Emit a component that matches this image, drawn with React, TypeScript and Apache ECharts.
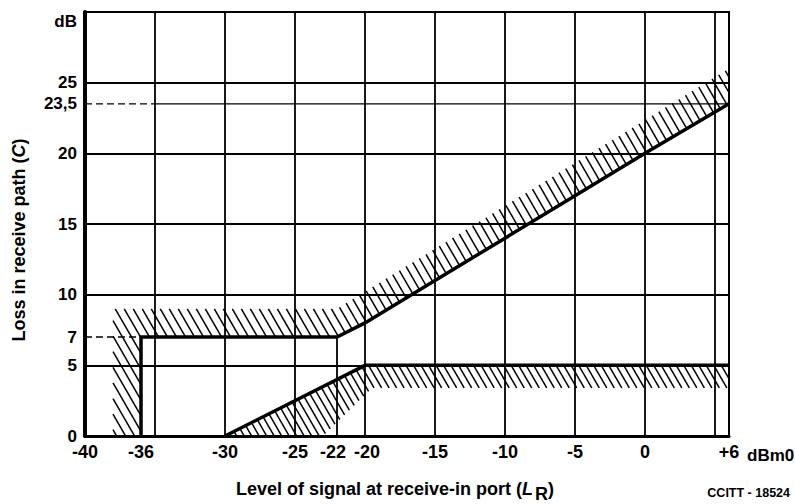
import React, { useEffect, useRef } from 'react';
import * as echarts from 'echarts';

// ---- data ----
const xTicks = [-40, -36, -30, -25, -22, -20, -15, -10, -5, 0, 6];
const yTicks = [0, 5, 7, 10, 15, 20, 23.5, 25];
const xGrid = [-35, -30, -25, -20, -15, -10, -5, 0, 5];
const yGrid = [5, 10, 15, 20, 25];

// upper limit of loss C (dB) vs level L_R (dBm0)
const upperLimit: number[][] = [
  [-36, 0], [-36, 7], [-22, 7], [-20, 8], [-15, 11], [-10, 14], [-5, 17], [0, 20], [6, 23.5],
];
// lower limit
const lowerLimit: number[][] = [[-30, 0], [-20, 5], [6, 5]];

// outer edges of the hatched zones
const upperHatchEdge: number[][] = [[-38, 0], [-38, 9], [-22, 9], [6, 26]];
const lowerHatchEdge: number[][] = [[-30, 0], [-23, 0], [-19.5, 3.4], [6, 3.4]];

// reference marks
const mark7: number[][] = [[-40, 7], [-36, 7]];
const mark22: number[][] = [[-22, 0], [-22, 7]];
const mark235Dashed: number[][] = [[-40, 23.5], [-35, 23.5]];
const mark235Solid: number[][] = [[-35, 23.5], [6, 23.5]];

const FONT = '"Liberation Sans", Arial, sans-serif';
const HATCH_GAP = [7.8, 6.5]; // perpendicular pixel spacing per band

function hatchSegments(poly: number[][], gap: number): number[][][] {
  // direction of strokes "\" at 60 degrees (screen coords)
  const a = (60 * Math.PI) / 180;
  const d = [Math.cos(a), Math.sin(a)];
  const n = [-d[1], d[0]];
  const dot = (p: number[], v: number[]) => p[0] * v[0] + p[1] * v[1];
  let cMin = Infinity, cMax = -Infinity;
  poly.forEach((p) => {
    const c = dot(p, n);
    cMin = Math.min(cMin, c);
    cMax = Math.max(cMax, c);
  });
  const segs: number[][][] = [];
  const start = Math.ceil(cMin / gap) * gap;
  for (let c = start; c <= cMax; c += gap) {
    const hits: number[][] = [];
    for (let i = 0; i < poly.length; i++) {
      const p1 = poly[i];
      const p2 = poly[(i + 1) % poly.length];
      const t1 = dot(p1, n) - c;
      const t2 = dot(p2, n) - c;
      if ((t1 < 0 && t2 >= 0) || (t1 >= 0 && t2 < 0)) {
        const f = t1 / (t1 - t2);
        hits.push([p1[0] + (p2[0] - p1[0]) * f, p1[1] + (p2[1] - p1[1]) * f]);
      }
    }
    hits.sort((u, v) => dot(u, d) - dot(v, d));
    for (let k = 0; k + 1 < hits.length; k += 2) segs.push([hits[k], hits[k + 1]]);
  }
  return segs;
}

const hatchBands = [
  upperHatchEdge.concat(upperLimit.slice().reverse()),
  lowerHatchEdge.concat(lowerLimit.slice().reverse()),
];

export default function App() {
  const ref = useRef<HTMLDivElement>(null);
  useEffect(() => {
    document.body.style.margin = '0';
    const chart = echarts.init(ref.current!, null, { renderer: 'svg' });
    const thinLine = (name: string, data: number[][], type: any, width: number) => ({
      name,
      type: 'line',
      data,
      symbol: 'none',
      silent: true,
      z: 2,
      lineStyle: { color: '#000', width, type },
    });
    const tickFont = { fontFamily: FONT, fontWeight: 'bold', fontSize: 18, color: '#000' };
    chart.setOption({
      animation: false,
      backgroundColor: '#fff',
      grid: {
        left: 85,
        right: 66,
        top: 12,
        bottom: 68,
        show: true,
        borderColor: '#000',
        borderWidth: 2,
        outerBoundsMode: 'none',
      },
      xAxis: {
        type: 'value',
        min: -40,
        max: 6,
        axisLine: { show: true, onZero: false, lineStyle: { color: '#000', width: 3 } },
        axisTick: { show: false },
        splitLine: { show: false },
        axisLabel: {
          customValues: xTicks,
          interval: 0,
          hideOverlap: false,
          margin: 7,
          ...tickFont,
          formatter: (v: number) => {
            if (v === -22) return '{l|-22}';
            if (v === -20) return '{r|-20}';
            return v > 0 ? '+' + v : String(v);
          },
          rich: {
            l: { ...tickFont, padding: [0, 8, 0, 0] },
            r: { ...tickFont, padding: [0, 0, 0, 4] },
          },
        },
      },
      yAxis: {
        type: 'value',
        min: 0,
        max: 30,
        axisLine: { show: true, onZero: false, lineStyle: { color: '#000', width: 4 } },
        axisTick: { show: false },
        splitLine: { show: false },
        axisLabel: {
          customValues: yTicks,
          interval: 0,
          hideOverlap: false,
          margin: 8,
          color: '#000',
          fontFamily: FONT,
          fontWeight: 'bold',
          fontSize: 17,
          formatter: (v: number) => (v === 23.5 ? '23,5' : String(v)),
        },
      },
      graphic: [
        {
          type: 'text',
          x: 77,
          y: 21,
          style: { text: 'dB', align: 'right', verticalAlign: 'middle', fill: '#000', font: `bold 17px ${FONT}` },
        },
        {
          type: 'text',
          x: 747,
          y: 455,
          style: { text: 'dBm0', align: 'left', verticalAlign: 'middle', fill: '#000', font: `bold 17px ${FONT}` },
        },
        {
          type: 'text',
          x: 19,
          y: 240,
          rotation: Math.PI / 2,
          style: {
            text: 'Loss in receive path ({i|C})',
            align: 'center',
            verticalAlign: 'middle',
            fill: '#000',
            font: `bold 18px ${FONT}`,
            rich: { i: { fontStyle: 'italic', fontWeight: 'bold', fontSize: 18, fontFamily: FONT, fill: '#000' } },
          },
        },
        {
          type: 'text',
          x: 395,
          y: 489,
          style: {
            text: 'Level of signal at receive-in port ({i|L}{s|R})',
            align: 'center',
            verticalAlign: 'middle',
            fill: '#000',
            font: `bold 18px ${FONT}`,
            rich: {
              i: { fontStyle: 'italic', fontWeight: 'bold', fontSize: 18, fontFamily: FONT, fill: '#000' },
              s: { fontWeight: 'bold', fontSize: 18, fontFamily: FONT, fill: '#000', padding: [10, 0, 0, 2] },
            },
          },
        },
        {
          type: 'text',
          x: 790,
          y: 493,
          style: { text: 'CCITT - 18524', align: 'right', verticalAlign: 'middle', fill: '#000', font: `bold 12.5px ${FONT}` },
        },
      ],
      series: [
        {
          name: 'grid',
          type: 'line',
          data: [],
          silent: true,
          z: 1,
          markLine: {
            silent: true,
            symbol: ['none', 'none'],
            label: { show: false },
            lineStyle: { color: '#000', width: 1.8, type: 'solid' },
            data: [
              ...xGrid.map((v) => ({ xAxis: v })),
              ...yGrid.map((v) => ({ yAxis: v })),
            ],
          },
        },
        thinLine('mark7', mark7, [7, 4], 1.6),
        thinLine('mark22', mark22, 'solid', 1.8),
        thinLine('mark235a', mark235Dashed, [7, 4], 1.3),
        thinLine('mark235b', mark235Solid, 'solid', 1.3),
        {
          name: 'hatch',
          type: 'custom',
          silent: true,
          clip: false,
          z: 3,
          data: hatchBands.map((_, i) => [-40, i]),
          renderItem: (params: any, api: any) => {
            const band = hatchBands[params.dataIndex];
            const poly = band.map((p) => api.coord(p));
            const segs = hatchSegments(poly, HATCH_GAP[params.dataIndex]);
            return {
              type: 'group',
              children: segs.map(([p, q]) => ({
                type: 'line',
                shape: { x1: p[0], y1: p[1], x2: q[0], y2: q[1] },
                style: { stroke: '#000', lineWidth: 1.5 },
              })),
            };
          },
        },
        {
          name: 'Upper limit',
          type: 'line',
          data: upperLimit,
          symbol: 'none',
          z: 4,
          lineStyle: { color: '#000', width: 3.5, join: 'miter' },
        },
        {
          name: 'Lower limit',
          type: 'line',
          data: lowerLimit,
          symbol: 'none',
          z: 4,
          lineStyle: { color: '#000', width: 3.5 },
        },
      ],
    });
    return () => chart.dispose();
  }, []);
  return <div ref={ref} style={{ position: 'absolute', left: 0, top: 0, width: 795, height: 504 }} />;
}
